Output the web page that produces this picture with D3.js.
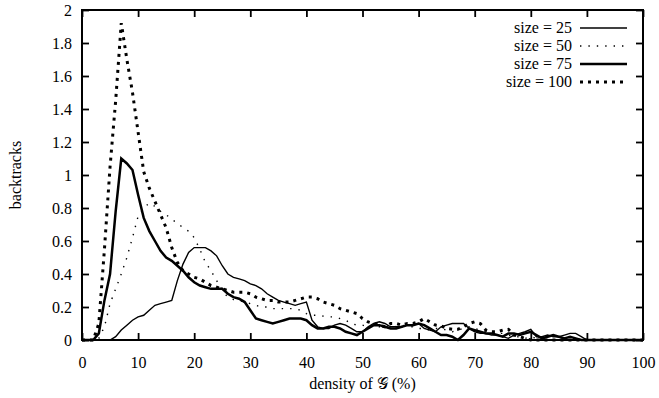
<!DOCTYPE html>
<html><head><meta charset="utf-8">
<script src="https://cdn.jsdelivr.net/npm/d3@7/dist/d3.min.js"></script>
<style>
html,body{margin:0;padding:0;background:#fff;}
text{font-family:"Liberation Serif","Times New Roman",serif;fill:#000;}
</style></head>
<body><svg id="c" width="659" height="398"></svg>
<script>
// x = density (%) 0..100
const densities = d3.range(0, 101);
const seriesNames = ["size = 25", "size = 50", "size = 75", "size = 100"];
const size25 = [0,0,0,0,0,0,0.02,0.06,0.09,0.12,0.14,0.15,0.18,0.21,0.22,0.23,0.24,0.36,0.46,0.53,0.56,0.56,0.56,0.54,0.51,0.45,0.40,0.38,0.37,0.36,0.34,0.33,0.31,0.28,0.26,0.24,0.23,0.22,0.21,0.22,0.23,0.12,0.08,0.07,0.07,0.09,0.10,0.09,0.07,0.05,0.05,0.08,0.10,0.11,0.10,0.08,0.08,0.08,0.09,0.09,0.10,0.07,0.06,0.05,0.08,0.09,0.10,0.10,0.10,0.07,0.05,0.04,0.04,0.03,0.03,0.02,0.01,0.03,0.04,0.05,0.065,0.02,0.02,0.03,0.02,0.02,0.03,0.04,0.04,0.02,0,0,0,0,0,0,0,0,0,0,0];
const size50 = [0,0,0,0.01,0.08,0.22,0.31,0.40,0.50,0.62,0.75,0.80,0.83,0.81,0.78,0.76,0.73,0.71,0.68,0.66,0.62,0.55,0.47,0.42,0.36,0.30,0.26,0.245,0.24,0.23,0.22,0.21,0.20,0.20,0.19,0.19,0.19,0.19,0.19,0.18,0.16,0.15,0.15,0.145,0.14,0.14,0.13,0.12,0.10,0.09,0.09,0.08,0.09,0.08,0.08,0.09,0.08,0.09,0.08,0.08,0.07,0.07,0.06,0.07,0.07,0.06,0.05,0.06,0.07,0.08,0.07,0.06,0.05,0.05,0.04,0.04,0.03,0.02,0.02,0.01,0.02,0.01,0,0,0,0,0,0,0,0,0,0,0,0,0,0,0,0,0,0,0];
const size75 = [0,0,0,0.04,0.24,0.40,0.78,1.10,1.07,1.03,0.88,0.74,0.66,0.60,0.54,0.50,0.48,0.45,0.42,0.38,0.35,0.33,0.32,0.31,0.31,0.31,0.28,0.26,0.25,0.23,0.18,0.13,0.12,0.11,0.10,0.11,0.12,0.13,0.13,0.13,0.12,0.09,0.07,0.07,0.08,0.08,0.07,0.05,0.04,0.03,0.05,0.07,0.09,0.09,0.08,0.07,0.07,0.08,0.09,0.09,0.10,0.09,0.07,0.05,0.03,0.03,0.02,0,0.03,0.07,0.06,0.05,0.04,0.04,0.03,0.02,0.04,0.04,0.03,0.04,0.05,0.03,0.01,0.02,0.03,0.02,0.01,0.02,0.01,0,0,0,0,0,0,0,0,0,0,0,0];
const size100 = [0,0,0,0.10,0.55,1.05,1.45,1.92,1.70,1.50,1.26,1.02,0.92,0.84,0.76,0.68,0.56,0.47,0.42,0.40,0.38,0.37,0.35,0.33,0.32,0.31,0.30,0.29,0.29,0.29,0.28,0.26,0.25,0.24,0.24,0.23,0.23,0.23,0.24,0.25,0.26,0.26,0.25,0.23,0.22,0.21,0.19,0.18,0.17,0.16,0.13,0.11,0.10,0.09,0.08,0.10,0.10,0.09,0.10,0.10,0.11,0.13,0.11,0.09,0.085,0.07,0.065,0.065,0.08,0.10,0.11,0.10,0.06,0.05,0.05,0.06,0.065,0.03,0.02,0.01,0,0,0,0,0,0,0,0,0,0,0,0,0,0,0,0,0,0,0,0,0];
const xTicks = d3.range(0, 101, 10);
const yTicks = d3.range(0, 2.01, 0.2);

const svg = d3.select("#c");
const L = 82, R = 643, T = 10, B = 340;
const x = d3.scaleLinear().domain([0, 100]).range([L, R]);
const y = d3.scaleLinear().domain([0, 2]).range([B, T]);

const styles = [
  {w: 1.4, dash: null},
  {w: 1.4, dash: "1.4,7"},
  {w: 2.5, dash: null},
  {w: 3, dash: "3,5"}
];
const data = [size25, size50, size75, size100];

const line = d3.line().x((d, i) => x(densities[i])).y(d => y(d));
const g = svg.append("g");
data.forEach((s, k) => {
  g.append("path").attr("d", line(s)).attr("fill", "none").attr("stroke", "#000")
    .attr("stroke-width", styles[k].w).attr("stroke-linejoin", "miter")
    .attr("stroke-dasharray", styles[k].dash);
});

// axes with inward ticks, mirrored
const tl = 7;
const FS = "16px";
const fmt = d => d3.format("~g")(+d.toFixed(1));
svg.append("g").attr("transform", `translate(0,${B})`)
  .call(d3.axisBottom(x).tickValues(xTicks).tickSize(-tl).tickPadding(tl + 10).tickFormat(fmt))
  .call(a => { a.select(".domain").remove(); a.selectAll("text").style("font-size", FS); a.selectAll("line").attr("stroke-width", 1.8); });
svg.append("g").attr("transform", `translate(0,${T})`)
  .call(d3.axisTop(x).tickValues(xTicks).tickSize(-tl).tickFormat(""))
  .call(a => { a.select(".domain").remove(); a.selectAll("line").attr("stroke-width", 1.8); });
svg.append("g").attr("transform", `translate(${L},0)`)
  .call(d3.axisLeft(y).tickValues(yTicks).tickSize(-tl).tickPadding(tl + 3).tickFormat(fmt))
  .call(a => { a.select(".domain").remove(); a.selectAll("text").style("font-size", FS); a.selectAll("line").attr("stroke-width", 1.8); });
svg.append("g").attr("transform", `translate(${R},0)`)
  .call(d3.axisRight(y).tickValues(yTicks).tickSize(-tl).tickFormat(""))
  .call(a => { a.select(".domain").remove(); a.selectAll("line").attr("stroke-width", 1.8); });
svg.selectAll(".tick line").attr("stroke", "#000");
svg.selectAll(".tick text").attr("fill", "#000").attr("font-family", "Liberation Serif, serif");

svg.append("rect").attr("x", L).attr("y", T).attr("width", R - L).attr("height", B - T)
  .attr("fill", "none").attr("stroke", "#000").attr("stroke-width", 2);

// labels
svg.append("text").attr("x", (L + R) / 2).attr("y", 389).attr("text-anchor", "middle")
  .style("font-size", FS).text("density of 𝒢 (%)");
svg.append("text").attr("transform", `translate(21,${(T + B) / 2}) rotate(-90)`)
  .attr("text-anchor", "middle").style("font-size", FS).text("backtracks");

// legend
const lg = svg.append("g");
seriesNames.forEach((n, k) => {
  const yy = 28 + k * 18;
  lg.append("text").attr("x", 572).attr("y", yy + 5).attr("text-anchor", "end")
    .style("font-size", FS).text(n);
  lg.append("line").attr("x1", 580).attr("x2", 627).attr("y1", yy).attr("y2", yy)
    .attr("stroke", "#000").attr("stroke-width", styles[k].w).attr("stroke-dasharray", styles[k].dash);
});
</script></body></html>
